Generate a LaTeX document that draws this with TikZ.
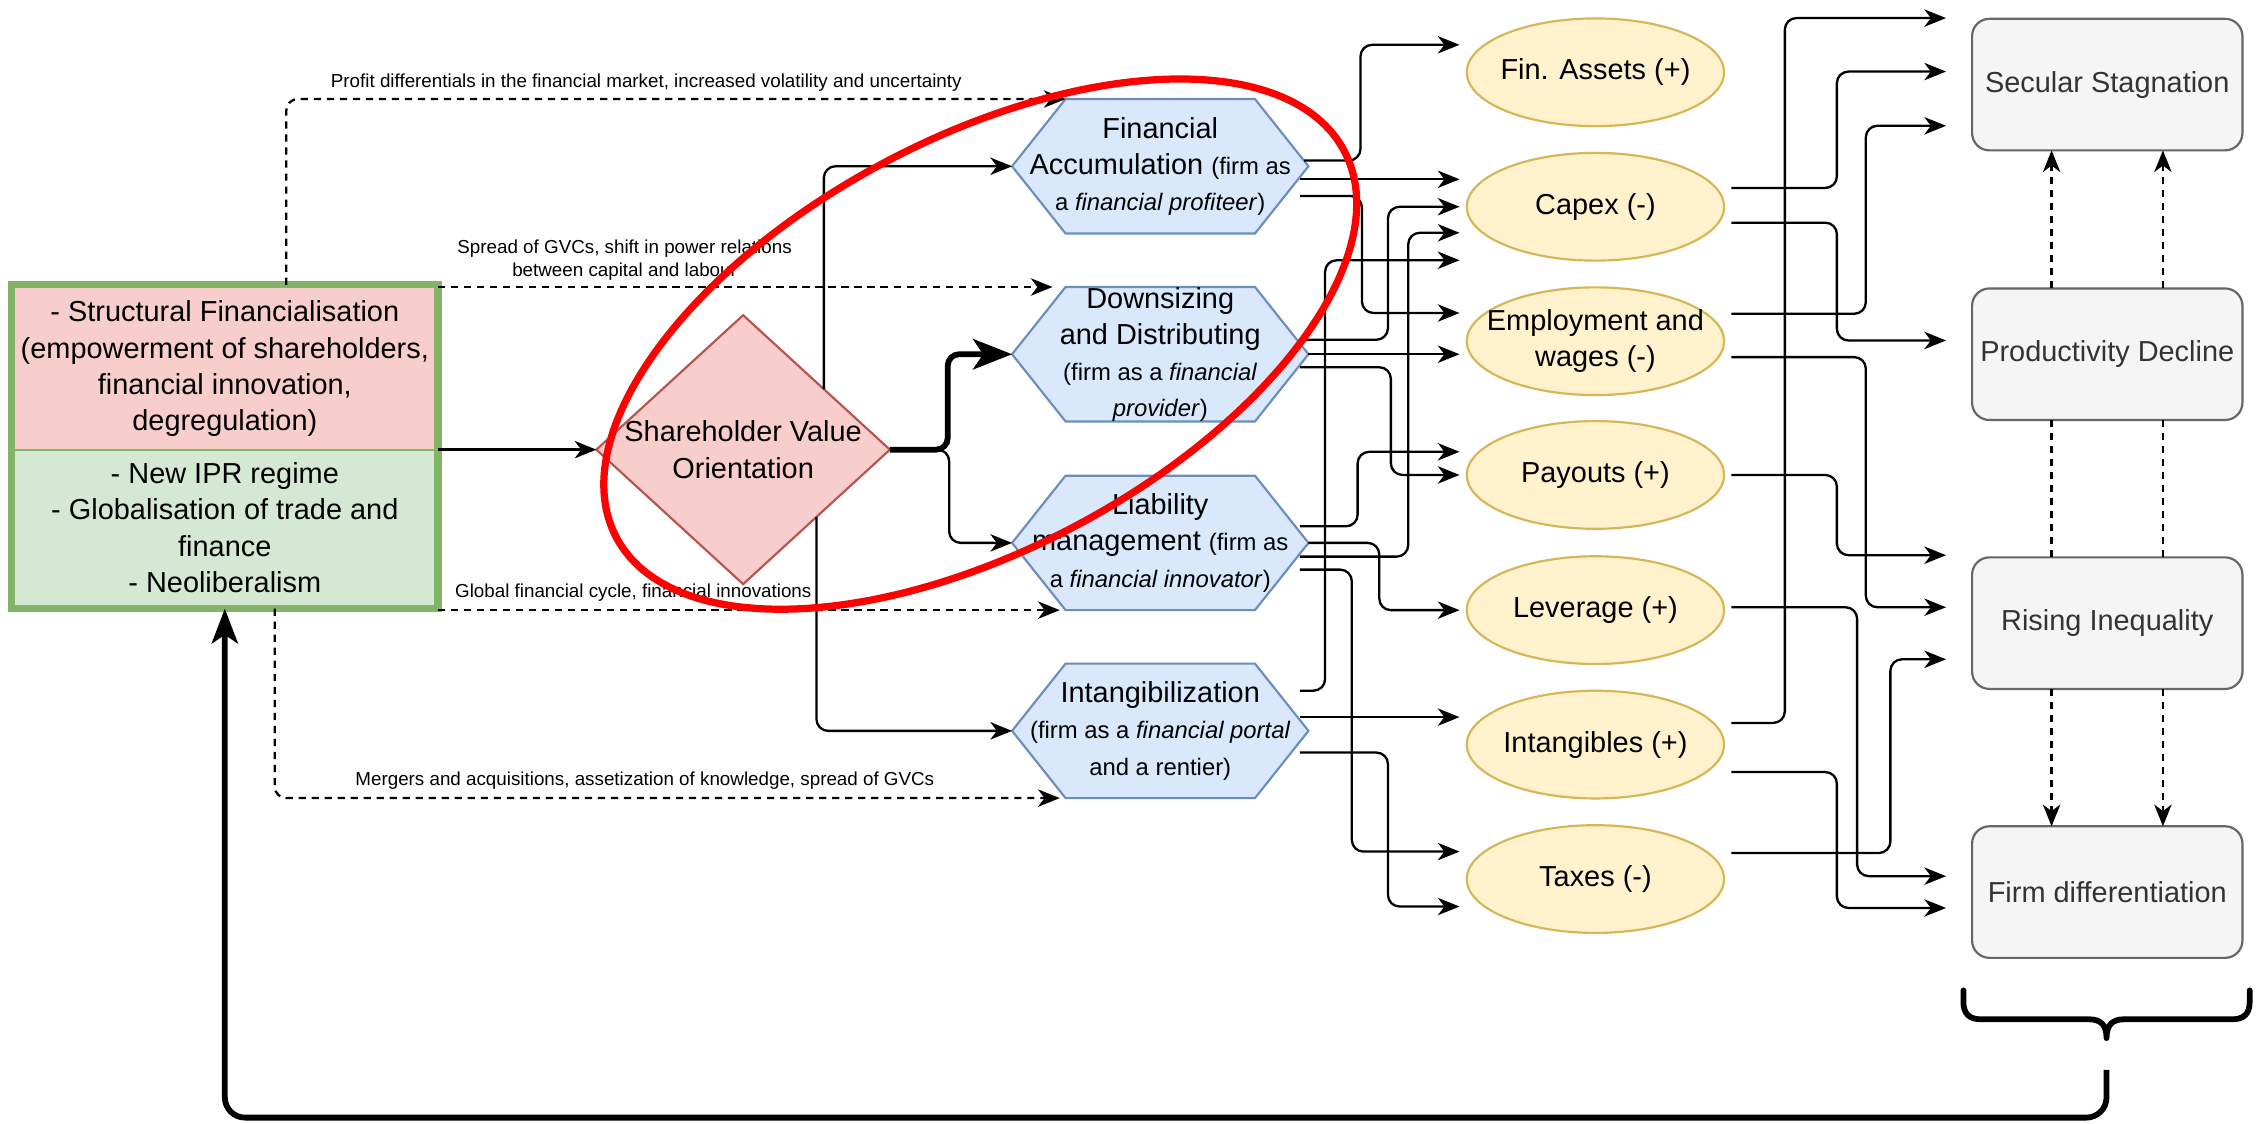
\documentclass[tikz,border=0pt]{standalone}
\usepackage{fontspec}
\setmainfont{Liberation Sans}
\usetikzlibrary{arrows.meta,calc,shapes.geometric,backgrounds}

\definecolor{redfill}{HTML}{F8CECC}
\definecolor{redline}{HTML}{B85450}
\definecolor{greenfill}{HTML}{D5E8D4}
\definecolor{greenline}{HTML}{82B366}
\definecolor{bluefill}{HTML}{DAE8FC}
\definecolor{blueline}{HTML}{6C8EBF}
\definecolor{yellowfill}{HTML}{FFF2CC}
\definecolor{yellowline}{HTML}{D6B656}
\definecolor{greyfill}{HTML}{F5F5F5}
\definecolor{greyline}{HTML}{666666}
\definecolor{greytext}{HTML}{333333}

% smaller type for the parenthetical role descriptions
\newcommand{\paren}[1]{{\fontsize{16.5}{25}\selectfont #1}}

\begin{document}
\begin{tikzpicture}[x=1pt,y=-1pt,
  bigfont/.style={font=\fontsize{20}{25}\selectfont},
  conn/.style={line width=1.6pt, rounded corners=8pt,
    -{Stealth[length=15pt,width=12pt,inset=4.5pt]}},
  dconn/.style={conn, dash pattern=on 5pt off 4pt},
  dplain/.style={line width=1.6pt, dash pattern=on 5pt off 4pt},
  srcbox/.style={draw=greenline, line width=5pt, minimum width=295pt,
    minimum height=224pt, inner sep=0pt, outer sep=0pt},
  srct/.style={bigfont, align=center, inner sep=0pt},
  dia/.style={diamond, draw=redline, fill=redfill, line width=1.5pt,
    minimum width=203pt, minimum height=186pt, inner sep=0pt, outer sep=0pt},
  hexbox/.style={bigfont, align=center, minimum width=205pt,
    minimum height=93pt, inner sep=0pt, outer sep=0pt},
  hexfill/.style={fill=bluefill, draw=blueline, line width=1.5pt},
  ell/.style={ellipse, draw=yellowline, fill=yellowfill, line width=1.5pt,
    minimum width=178pt, minimum height=74.5pt, inner sep=0pt, outer sep=0pt},
  ellt/.style={bigfont, align=center, inner sep=0pt},
  outbox/.style={bigfont, draw=greyline, fill=greyfill, line width=1.5pt,
    rounded corners=12pt, minimum width=187pt, minimum height=91pt,
    inner sep=0pt, outer sep=0pt, text=greytext},
  lbl/.style={font=\fontsize{13}{16}\selectfont, align=center, inner sep=0pt},
]
\useasboundingbox (0,0) rectangle (1568,777);

% ---------- drivers ----------
\node[srcbox] (src) at (155.5,309) {};
\node[srct] (srcA) at (155.5,255) {- Structural Financialisation\\(empowerment of shareholders,\\financial innovation,\\degregulation)};
\node[srct] (srcB) at (155.5,365) {- New IPR regime\\- Globalisation of trade and\\finance\\- Neoliberalism};

% ---------- shareholder value orientation ----------
\node[dia, label={[ellt]center:{Shareholder Value\\Orientation}}] (svo) at (514,311) {};

% ---------- firm strategies ----------
\node[hexbox] (fa) at (802.5,115) {Financial\\Accumulation \paren{(firm as}\\\paren{a \textit{financial profiteer})}};
\node[hexbox] (dd) at (802.5,245) {Downsizing\\and Distributing\\\paren{(firm as a \textit{financial}}\\\paren{\textit{provider})}};
\node[hexbox] (lm) at (802.5,375.5) {Liability\\management \paren{(firm as}\\\paren{a \textit{financial innovator})}};
\node[hexbox] (ig) at (802.5,505.5) {Intangibilization\\\paren{(firm as a \textit{financial portal}}\\\paren{and a rentier)}};

% ---------- firm-level outcomes ----------
\node[ell, label={[ellt]center:{Fin. Assets (+)}}] (fin) at (1103.5,50) {};
\node[ell, label={[ellt]center:{Capex (-)}}] (capex) at (1103.5,143) {};
\node[ell, label={[ellt]center:{Employment and\\wages (-)}}] (emp) at (1103.5,236) {};
\node[ell, label={[ellt]center:{Payouts (+)}}] (pay) at (1103.5,328.5) {};
\node[ell, label={[ellt]center:{Leverage (+)}}] (lev) at (1103.5,422) {};
\node[ell, label={[ellt]center:{Intangibles (+)}}] (intg) at (1103.5,515) {};
\node[ell, label={[ellt]center:{Taxes (-)}}] (tax) at (1103.5,608) {};

% ---------- macro outcomes ----------
\node[outbox] (sec) at (1457.5,58.5) {Secular Stagnation};
\node[outbox] (prod) at (1457.5,245) {Productivity Decline};
\node[outbox] (ris) at (1457.5,431) {Rising Inequality};
\node[outbox] (firm) at (1457.5,617) {Firm differentiation};

% ---------- fills behind the driver box and the hexagons ----------
\begin{scope}[on background layer]
  \fill[white] (0,0) rectangle (1568,777);
  \fill[redfill] (src.north west) rectangle ($(src.east)+(0,2)$);
  \fill[greenfill] ($(src.west)+(0,2)$) rectangle (src.south east);
  \foreach \h in {fa,dd,lm,ig}
    \draw[hexfill] (\h.west) -- ($(\h.north west)+(37,0)$) -- ($(\h.north east)+(-37,0)$)
      -- (\h.east) -- ($(\h.south east)+(-37,0)$) -- ($(\h.south west)+(37,0)$) -- cycle;
\end{scope}
\draw[greenline, line width=1.5pt] ($(src.west)+(0,2)$) -- ($(src.east)+(0,2)$);

% ---------- context channels (dashed) ----------
\draw[dconn] ($(src.north west)+(190,0)$) |- ($(fa.north west)+(37,0)$);
\node[lbl] (l1) at (447,57) {Profit differentials in the financial market, increased volatility and uncertainty};
\draw[dconn] (src.north east |- dd.north west) -- ($(dd.north west)+(28,0)$);
\node[lbl] (l2) at (432,180) {Spread of GVCs, shift in power relations\\between capital and labour};
\draw[dconn] (src.south east |- lm.south west) -- ($(lm.south west)+(33,0)$);
\node[lbl] (l3) at (438,410) {Global financial cycle, financial innovations};
\draw[dconn] ($(src.south west)+(182,0)$) |- ($(ig.south west)+(33,0)$);
\node[lbl] (l4) at (446,540) {Mergers and acquisitions, assetization of knowledge, spread of GVCs};

% ---------- drivers -> SVO -> strategies ----------
\draw[conn] (src.east |- svo.west) -- (svo.west);
\draw[conn] ($(svo.north)!0.55!(svo.east)$) |- (fa.west);
\draw[conn] ($(svo.south)!0.5!(svo.east)$) |- (ig.west);
\draw[conn] (svo.east) -- ++(41,0) |- (lm.west);
\draw[line width=4pt, rounded corners=8pt, -{Stealth[length=27pt,width=21pt,inset=7pt]}]
  (svo.east) -- ++(40,0) |- (dd.west);

% ---------- strategies -> firm-level outcomes ----------
\draw[conn] ($(fa.east)+(-3,-4)$) -- ++(39,0) |- ($(fin.west)+(-5,-19)$);
\draw[conn] ($(fa.east)+(-6,9)$) -- ($(capex.west)+(-5,-19)$);
\draw[conn] ($(fa.east)+(-6,20.5)$) -- ++(43,0) |- ($(emp.west)+(-5,-19.5)$);

\draw[conn] ($(dd.east)+(-6,-10)$) -- ++(61,0) |- ($(capex.west)+(-5,0)$);
\draw[conn] (dd.east) -- ($(emp.west)+(-5,9)$);
\draw[conn] ($(dd.east)+(-6,9)$) -- ++(63,0) |- ($(pay.west)+(-5,0)$);

\draw[conn] ($(lm.east)+(-6,-11.5)$) -- ++(40,0) |- ($(pay.west)+(-5,-16)$);
\draw[conn] (lm.east) -- ++(49,0) |- ($(lev.west)+(-5,0)$);
\draw[conn] ($(lm.east)+(-6,9.5)$) -- ++(75,0) |- ($(capex.west)+(-5,18)$);
\draw[conn] ($(lm.east)+(-6,18.5)$) -- ++(36,0) |- ($(tax.west)+(-5,-19)$);

\draw[conn] ($(ig.east)+(-6,-27.8)$) -- ++(17.5,0) |- ($(capex.west)+(-5,37)$);
\draw[conn] ($(ig.east)+(-6,-9.5)$) -- ($(intg.west)+(-5,-19)$);
\draw[conn] ($(ig.east)+(-6,15)$) -- ++(61,0) |- ($(tax.west)+(-5,19)$);

% ---------- firm-level -> macro outcomes ----------
\draw[conn] ($(capex.east)+(5,-13)$) -- ++(73,0) |- ($(sec.west)+(-18,-9)$);
\draw[conn] ($(capex.east)+(5,11)$) -- ++(73,0) |- ($(prod.west)+(-18,-9.5)$);
\draw[conn] ($(emp.east)+(5,-19)$) -- ++(93,0) |- ($(sec.west)+(-18,28.5)$);
\draw[conn] ($(emp.east)+(5,11)$) -- ++(93,0) |- ($(ris.west)+(-18,-11)$);
\draw[conn] ($(pay.east)+(5,0)$) -- ++(73,0) |- ($(ris.west)+(-18,-47)$);
\draw[conn] ($(lev.east)+(5,-2)$) -- ++(87,0) |- ($(firm.west)+(-18,-11)$);
\draw[conn] ($(intg.east)+(5,-15)$) -- ++(37,0) |- ($(sec.west)+(-18,-46)$);
\draw[conn] ($(intg.east)+(5,19)$) -- ++(73,0) |- ($(firm.west)+(-18,11)$);
\draw[conn] ($(tax.east)+(5,-18)$) -- ++(110,0) |- ($(ris.west)+(-18,25)$);

% ---------- links among macro outcomes ----------
\foreach \dx in {-38.5,38.5} {
  \draw[dconn] ($(prod.north)+(\dx,0)$) -- ($(sec.south)+(\dx,0)$);
  \draw[dplain] ($(prod.south)+(\dx,0)$) -- ($(ris.north)+(\dx,0)$);
  \draw[dconn] ($(ris.south)+(\dx,0)$) -- ($(firm.north)+(\dx,0)$);
}

% ---------- brace and feedback loop ----------
\draw[line width=4pt, line join=round, line cap=round]
  (1358,685) -- (1358,693) .. controls (1358,701) and (1362,705) .. (1370,705)
  -- (1445,705) .. controls (1453,705) and (1457,709) .. (1457,718)
  .. controls (1457,709) and (1461,705) .. (1469,705)
  -- (1544,705) .. controls (1552,705) and (1556,701) .. (1556,693) -- (1556,685);
\coordinate (fbstart) at (1457,740);
\draw[line width=4pt, rounded corners=14pt, -{Stealth[length=24pt,width=18pt,inset=6pt]}]
  (fbstart) |- ($(src.south)+(0,352)$) -- (src.south);

% ---------- highlight ----------
\draw[red, line width=5pt, rotate around={28:(678,238)}] (678,238) ellipse [x radius=285, y radius=142];
\end{tikzpicture}
\end{document}
